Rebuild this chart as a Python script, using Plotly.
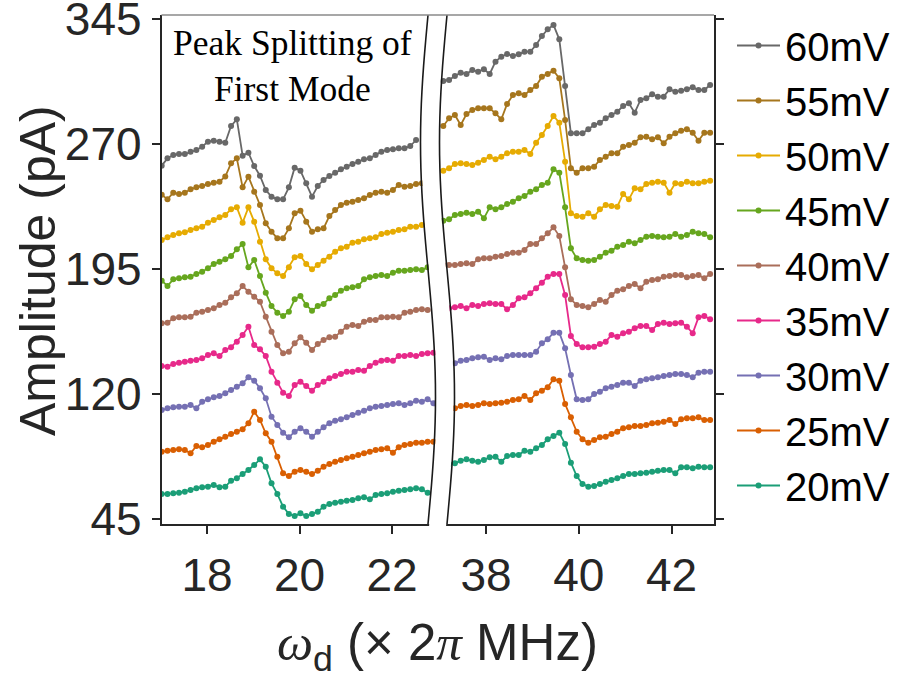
import plotly.graph_objects as go
import numpy as np

W, H = 901, 684

labels = ['60mV', '55mV', '50mV', '45mV', '40mV', '35mV', '30mV', '25mV', '20mV']
colors = ['#686868', '#a6761d', '#e6ab02', '#66a61e', '#aa6e5a',
          '#e7298a', '#7570b3', '#d95f02', '#1b9e77']

left_x0, right_x0, step = 17.02, 37.08, 0.125
y_ticks = [45, 120, 195, 270, 345]
x_ticks_left = [18, 20, 22]
x_ticks_right = [38, 40, 42]

# ---- left window (first mode) ----
left_60 = [257.0, 261.4, 263.4, 264.0, 264.0, 265.4, 266.4, 268.4, 271.4, 272.0, 271.4, 270.8,
           280.8, 284.8, 263.0, 264.8, 256.8, 251.0, 242.4, 238.4, 236.8, 236.8, 244.0, 255.8,
           254.0, 246.4, 238.4, 244.8, 248.4, 250.8, 252.8, 254.8, 256.4, 258.0, 259.4, 260.8,
           261.4, 263.4, 265.4, 266.4, 266.8, 267.4, 267.4, 268.8, 272.4]
left_55 = [239.6, 236.8, 240.8, 240.0, 240.8, 242.8, 244.0, 244.8, 246.0, 246.8, 247.4, 250.5,
           258.4, 261.4, 244.0, 250.4, 241.4, 233.4, 222.4, 217.4, 213.4, 213.4, 219.4, 228.4,
           230.0, 223.4, 217.4, 218.8, 219.4, 226.8, 230.4, 233.4, 234.8, 235.4, 236.4, 237.4,
           239.4, 240.8, 241.4, 240.8, 242.4, 245.4, 244.4, 244.8, 246.0, 246.4]
left_50 = [212.4, 214.0, 215.4, 216.4, 217.0, 218.4, 219.4, 220.4, 222.8, 224.4, 226.0, 227.4,
           230.8, 232.0, 222.8, 232.0, 223.4, 211.4, 200.8, 195.4, 192.4, 190.8, 196.0, 202.0,
           202.8, 198.0, 194.8, 197.4, 200.0, 202.4, 205.4, 207.4, 208.4, 210.8, 211.4, 212.8,
           213.4, 214.0, 216.0, 216.8, 217.4, 218.4, 218.8, 220.4, 220.4, 221.4]
left_45 = [188.0, 184.8, 188.8, 189.4, 190.0, 190.4, 192.0, 193.4, 195.4, 198.0, 199.4, 200.8,
           202.8, 206.8, 210.0, 196.0, 200.4, 190.8, 180.8, 172.8, 168.8, 166.8, 169.4, 176.8,
           178.8, 173.4, 170.0, 172.8, 174.0, 177.4, 179.4, 182.0, 183.4, 184.0, 184.8, 188.8,
           190.0, 190.8, 191.4, 190.8, 192.8, 194.0, 194.0, 194.4, 194.8, 194.4, 196.0]
left_40 = [162.4, 162.8, 165.4, 166.0, 166.0, 166.4, 168.8, 169.4, 170.4, 171.4, 173.4, 174.8,
           178.0, 180.4, 184.8, 181.4, 178.4, 175.4, 166.4, 157.4, 149.4, 144.4, 145.4, 150.4,
           154.0, 150.8, 146.4, 150.0, 152.4, 154.0, 154.4, 157.4, 160.4, 161.4, 160.8, 163.4,
           164.4, 164.4, 166.0, 166.0, 166.4, 166.0, 168.8, 169.4, 170.4, 170.8, 170.4]
left_35 = [136.8, 136.4, 138.0, 138.8, 139.4, 140.0, 140.4, 141.4, 143.4, 144.4, 142.8, 146.4,
           148.0, 151.4, 155.4, 160.4, 149.4, 146.8, 142.8, 133.4, 126.8, 120.8, 118.8, 125.4,
           127.4, 124.8, 122.0, 125.4, 127.4, 129.4, 130.8, 132.0, 133.4, 133.4, 134.4, 134.0,
           136.8, 138.8, 140.0, 140.4, 140.0, 142.8, 142.8, 143.4, 142.8, 144.0, 144.4, 144.8]
left_30 = [110.4, 111.4, 112.0, 112.4, 112.4, 113.4, 111.4, 115.4, 116.8, 118.0, 118.8, 120.4,
           122.4, 124.4, 126.4, 130.0, 128.0, 123.4, 117.4, 106.4, 101.4, 96.8, 94.0, 97.4,
           99.4, 97.4, 94.4, 97.4, 100.0, 102.4, 104.0, 104.8, 106.0, 107.4, 108.8, 110.0,
           111.4, 112.4, 112.8, 113.4, 114.0, 114.4, 113.4, 114.4, 116.0, 115.4, 116.8, 114.4]
left_25 = [85.4, 86.0, 86.4, 86.8, 86.4, 84.4, 88.8, 88.0, 89.4, 91.4, 92.8, 94.4,
           96.0, 97.4, 98.8, 102.4, 109.4, 104.4, 96.4, 91.4, 82.4, 72.4, 70.8, 73.4,
           74.4, 73.4, 72.0, 74.0, 76.4, 78.0, 79.4, 80.4, 81.4, 82.4, 83.4, 84.4,
           85.4, 86.4, 86.8, 87.4, 84.8, 88.0, 89.4, 90.0, 90.8, 90.8, 91.4, 91.4]
left_20 = [60.0, 60.0, 60.4, 60.8, 61.4, 62.4, 63.4, 64.0, 64.4, 65.4, 64.0, 64.4,
           68.0, 69.4, 72.0, 74.4, 77.4, 80.8, 76.4, 66.4, 60.0, 52.4, 48.0, 46.8,
           48.4, 46.8, 48.0, 49.4, 52.4, 54.0, 54.8, 55.4, 56.0, 56.4, 57.4, 58.0,
           56.8, 59.4, 60.0, 60.4, 61.4, 62.0, 62.4, 62.8, 63.4, 62.8, 60.8]

# ---- right window (second mode) ----
right_60 = [307.8, 308.4, 310.8, 312.8, 312.0, 314.4, 313.4, 314.8, 312.0, 319.4, 322.4, 324.0,
            322.8, 323.8, 325.4, 325.4, 329.4, 334.8, 338.8, 341.4, 332.8, 304.8, 276.4, 276.4,
            276.4, 278.8, 281.4, 282.8, 285.4, 287.4, 289.4, 292.8, 294.4, 288.8, 296.4, 297.4,
            299.8, 298.4, 298.4, 302.8, 301.4, 302.0, 302.8, 304.0, 302.4, 302.4, 305.4]
right_55 = [280.8, 285.4, 287.4, 281.4, 288.0, 290.4, 291.4, 291.4, 291.4, 288.4, 284.8, 294.0,
            299.4, 300.4, 299.4, 302.4, 304.8, 310.4, 312.0, 314.0, 309.4, 284.4, 255.4, 252.8,
            255.4, 255.4, 256.4, 260.4, 262.4, 264.4, 264.4, 268.4, 269.4, 270.8, 274.0, 274.4,
            272.8, 274.0, 270.4, 274.4, 276.4, 278.0, 278.8, 276.8, 272.0, 276.8, 276.8]
right_50 = [254.0, 255.4, 258.0, 258.4, 258.0, 257.4, 258.8, 260.4, 262.4, 260.8, 262.4, 264.4,
            265.4, 265.4, 266.4, 264.0, 270.8, 275.4, 280.8, 286.8, 282.8, 259.4, 228.4, 226.8,
            226.4, 228.4, 226.4, 230.8, 233.4, 232.8, 232.4, 240.0, 236.8, 243.4, 242.8, 246.0,
            246.8, 247.4, 246.8, 240.8, 246.4, 246.0, 247.4, 246.4, 246.4, 247.4, 248.0]
right_45 = [224.0, 224.8, 227.4, 228.0, 228.8, 228.0, 229.4, 225.4, 232.0, 230.8, 232.0, 234.0,
            235.4, 237.4, 238.8, 241.4, 242.8, 245.4, 246.8, 254.8, 252.8, 232.0, 207.4, 201.4,
            200.4, 200.0, 200.4, 202.4, 204.8, 206.0, 208.4, 209.4, 211.4, 210.4, 212.4, 214.4,
            214.8, 214.4, 214.0, 214.4, 216.0, 214.4, 215.4, 217.4, 216.4, 216.0, 214.0]
right_40 = [197.4, 197.4, 197.4, 198.0, 198.4, 198.0, 200.8, 201.4, 201.4, 202.4, 202.8, 204.0,
            204.8, 204.8, 206.4, 210.0, 210.0, 213.4, 216.4, 220.0, 214.8, 196.0, 176.8, 173.4,
            172.8, 172.0, 174.0, 176.4, 175.4, 179.4, 182.0, 182.8, 184.8, 186.0, 183.4, 187.4,
            188.4, 188.8, 190.4, 190.8, 191.4, 191.4, 190.0, 190.8, 191.4, 189.4, 192.0]
right_35 = [171.0, 171.4, 172.0, 172.8, 171.4, 173.4, 172.8, 174.0, 174.4, 174.0, 174.0, 170.8,
            173.4, 177.4, 178.0, 180.4, 183.4, 186.8, 190.4, 192.0, 192.0, 179.4, 154.8, 150.0,
            148.0, 148.0, 148.4, 150.0, 151.4, 155.4, 154.4, 156.4, 157.4, 159.4, 160.8, 160.8,
            158.4, 162.0, 162.8, 162.0, 162.4, 162.8, 160.4, 156.4, 166.0, 166.8, 164.8]
right_30 = [137.5, 138.0, 138.4, 140.0, 140.4, 141.4, 142.0, 142.4, 140.4, 141.4, 140.8, 142.8,
            143.4, 143.4, 143.4, 143.4, 145.4, 150.4, 152.8, 156.8, 156.8, 147.4, 131.4, 116.8,
            116.4, 116.8, 120.0, 121.4, 123.4, 124.4, 125.4, 126.8, 126.8, 124.8, 128.0, 128.8,
            129.4, 130.0, 130.8, 131.4, 132.0, 132.0, 131.4, 130.0, 132.8, 133.4, 133.4]
right_25 = [110.5, 111.0, 111.4, 112.8, 113.4, 112.8, 113.4, 114.4, 114.0, 114.4, 114.8, 115.4,
            116.4, 116.8, 118.8, 116.4, 120.4, 122.0, 124.0, 128.8, 128.0, 114.0, 106.0, 97.4,
            92.8, 90.8, 92.4, 94.0, 94.4, 96.0, 97.4, 99.4, 100.0, 100.8, 100.8, 101.4,
            102.4, 102.8, 103.4, 104.4, 102.0, 104.8, 105.4, 105.4, 106.0, 104.4, 104.4]
right_20 = [78.0, 78.0, 78.4, 80.0, 80.8, 80.0, 79.4, 80.4, 82.0, 82.4, 79.4, 82.8,
            83.4, 83.4, 86.0, 85.4, 87.4, 89.4, 92.8, 94.8, 96.8, 90.0, 78.8, 70.8,
            66.0, 64.4, 64.8, 66.0, 67.4, 68.4, 69.4, 70.8, 72.0, 72.0, 72.4, 72.8,
            73.4, 74.0, 74.4, 74.4, 72.4, 76.0, 76.0, 75.4, 76.4, 76.0, 76.0]

left_series = [left_60, left_55, left_50, left_45, left_40, left_35, left_30, left_25, left_20]
right_series = [right_60, right_55, right_50, right_45, right_40, right_35, right_30, right_25, right_20]

# pixel helpers for layout placement
def px(x):
    return x / W

def py(y):
    return 1 - y / H

X_L0, X_L1, X_R0, X_R1 = 161.5, 436.0, 440.0, 714.0
Y_T, Y_B = 15.0, 524.0
AX = '#262626'

fig = go.Figure()
for lab, col, ls, rs in zip(labels, colors, left_series, right_series):
    xl = [left_x0 + step * i for i in range(len(ls))]
    xr = [right_x0 + step * i for i in range(len(rs))]
    common = dict(mode='lines+markers', line=dict(color=col, width=1.8),
                  marker=dict(color=col, size=6, line=dict(width=0)),
                  legendgroup=lab, name=lab)
    fig.add_trace(go.Scatter(x=xl, y=ls, xaxis='x', yaxis='y', showlegend=True, **common))
    fig.add_trace(go.Scatter(x=xr, y=rs, xaxis='x2', yaxis='y', showlegend=False, **common))

tickfont = dict(family='Liberation Sans, Arial, sans-serif', size=46, color=AX)
xcommon = dict(showline=True, linecolor=AX, linewidth=1.5, ticks='outside', ticklen=8,
               tickwidth=1.5, tickcolor=AX, showgrid=False, zeroline=False,
               tickfont=tickfont, anchor='y', automargin=False, ticklabelstandoff=2,
               ticklabeloverflow='allow')
fig.update_layout(
    width=W, height=H, margin=dict(l=0, r=0, t=0, b=0),
    paper_bgcolor='white', plot_bgcolor='white',
    xaxis=dict(domain=[px(X_L0), px(X_L1)], range=[17.016, 22.951],
               tickvals=x_ticks_left, ticktext=[str(v) for v in x_ticks_left], **xcommon),
    xaxis2=dict(domain=[px(X_R0), px(X_R1)], range=[37.009, 42.914],
                tickvals=x_ticks_right, ticktext=[str(v) for v in x_ticks_right], **xcommon),
    yaxis=dict(domain=[py(Y_B), py(Y_T)], range=[42.0, 347.4], anchor='x',
               tickvals=y_ticks, ticktext=[str(v) for v in y_ticks],
               showline=True, linecolor=AX, linewidth=1.5, ticks='outside', ticklen=8,
               tickwidth=1.5, tickcolor=AX, showgrid=False, zeroline=False,
               tickfont=tickfont, automargin=False, ticklabelstandoff=1,
               ticklabeloverflow='allow'),
    yaxis2=dict(overlaying='y', anchor='x2', side='right', range=[42.0, 347.4],
                tickvals=y_ticks, showticklabels=False,
                showline=True, linecolor=AX, linewidth=1.5, ticks='outside', ticklen=8,
                tickwidth=1.5, tickcolor=AX, showgrid=False, zeroline=False,
                automargin=False),
    legend=dict(x=px(732), y=py(13), xanchor='left', yanchor='top',
                font=dict(family='Liberation Sans, Arial, sans-serif', size=40, color='black'),
                bgcolor='rgba(0,0,0,0)', borderwidth=0, tracegroupgap=0, itemwidth=43),
    showlegend=True,
)

# helper trace so that the right-hand y axis is drawn
fig.add_trace(go.Scatter(x=[None], y=[None], xaxis='x2', yaxis='y2', showlegend=False,
                         hoverinfo='skip'))

# ---- axis break: white gap between two wavy lines ----
ts = np.linspace(0, 1, 41)
def wave(x_base):
    return [(x_base - 7.5 * np.sin(2 * np.pi * t), Y_T + (Y_B - Y_T) * t) for t in ts]

left_wave = wave(428.0)
right_wave = wave(447.0)

def path_of(pts):
    return 'M ' + ' L '.join(f'{px(x):.5f},{py(y):.5f}' for x, y in pts)

gap_pts = ([(x + 1, y) for x, y in left_wave]
           + [(x - 1, y) for x, y in reversed(right_wave)])
gap_pts = [(x, (Y_T - 1 if y <= Y_T else (Y_B + 3 if y >= Y_B else y))) for x, y in gap_pts]
shapes = [
    dict(type='path', path=path_of(gap_pts) + ' Z', xref='paper', yref='paper',
         fillcolor='white', line=dict(width=0), layer='above'),
    dict(type='path', path=path_of(left_wave), xref='paper', yref='paper',
         line=dict(color='#1a1a1a', width=1.6), layer='above'),
    dict(type='path', path=path_of(right_wave), xref='paper', yref='paper',
         line=dict(color='#1a1a1a', width=1.6), layer='above'),
    dict(type='line', x0=px(X_L0), x1=px(X_R1), y0=py(Y_T), y1=py(Y_T), xref='paper',
         yref='paper', line=dict(color='#8a8a8a', width=1.5), layer='above'),
]
fig.update_layout(shapes=shapes)

annotations = [
    dict(text='Peak Splitting of<br>First Mode', x=px(292.5), y=py(66), xref='paper',
         yref='paper', showarrow=False, xanchor='center', yanchor='middle',
         font=dict(family='Liberation Serif, Times New Roman, serif', size=35.5, color='black')),
    dict(text='Amplitude (pA)', x=px(38), y=py(271), xref='paper', yref='paper',
         showarrow=False, textangle=-90, xanchor='center', yanchor='middle',
         font=dict(family='Liberation Sans, Arial, sans-serif', size=50, color=AX)),
    dict(text=('<span style="font-family:Liberation Serif"><i>ω</i></span><sub>d</sub> '
               '(× 2<span style="font-family:Liberation Serif"><i>π</i></span> MHz)'),
         x=px(437), y=py(646), xref='paper', yref='paper', showarrow=False,
         xanchor='center', yanchor='middle',
         font=dict(family='Liberation Sans, Arial, sans-serif', size=51, color=AX)),
]
fig.update_layout(annotations=annotations)

fig.write_html('out.html')
